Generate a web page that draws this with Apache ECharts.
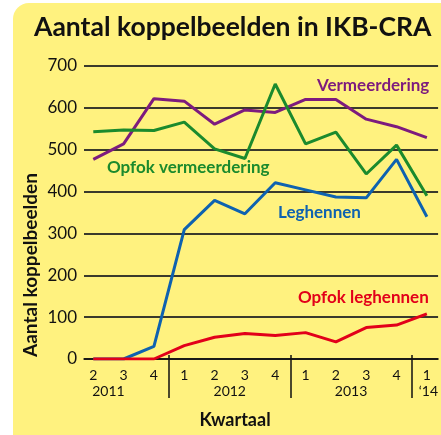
<!DOCTYPE html>
<html>
<head>
<meta charset="utf-8">
<script src="https://cdn.jsdelivr.net/npm/echarts@6/dist/echarts.min.js"></script>
<style>
html,body{margin:0;padding:0;background:#fff;}
#bg{position:absolute;left:13px;top:3px;width:450px;height:450px;background:#fff27f;border-radius:16px;}
#chart{position:absolute;left:0;top:0;width:441px;height:435px;}
</style>
</head>
<body>
<div id="bg"></div>
<div id="chart"></div>
<script>
var quarters = ['2','3','4','1','2','3','4','1','2','3','4','1'];
var yearLabels = ['2011','2012','2013','\u201814'];
var yearPos = [0.5, 4.5, 8.5, 11.05];
var yearBreaks = [2.5, 6.5, 10.5];
var vermeerdering = [477, 514, 622, 616, 561, 595, 589, 620, 620, 573, 555, 529];
var opfokVermeerdering = [543, 547, 546, 566, 502, 479, 657, 514, 542, 442, 511, 390];
var leghennen = [0, 0, 30, 309, 379, 347, 421, 404, 387, 385, 477, 340];
var opfokLeghennen = [0, 0, 0, 32, 52, 61, 56, 63, 41, 75, 81, 108];

function pts(arr){ return arr.map(function(v,i){ return [i, v]; }); }
var F = 'Lato, "Noto Sans", sans-serif';

var chart = echarts.init(document.getElementById('chart'), null, {renderer:'canvas'});
function line(name, data, color){
  return {name:name, type:'line', data:pts(data), symbol:'none', xAxisIndex:0,
    lineStyle:{color:color, width:3}, itemStyle:{color:color}, z:5, animation:false};
}
chart.setOption({
  backgroundColor:'transparent',
  animation:false,
  title:{text:'Aantal koppelbeelden in IKB-CRA', left:29, top:9,
    textStyle:{fontFamily:F, fontWeight:'bold', fontSize:26.5, color:'#111'}},
  grid:{left:84, right:2, top:66, bottom:76},
  xAxis:[{
    type:'value', min:-0.306, max:11.37, position:'bottom',
    axisLine:{show:true, lineStyle:{color:'#111', width:1.5}},
    axisTick:{show:true, customValues:yearBreaks, length:39, lineStyle:{color:'#111', width:1.5}},
    axisLabel:{customValues:[0,1,2,3,4,5,6,7,8,9,10,11], formatter:function(v){return quarters[Math.round(v)];},
      fontFamily:F, fontSize:14, color:'#111', margin:9},
    splitLine:{show:false}
  },{
    type:'value', min:-0.306, max:11.37, position:'bottom',
    axisLine:{show:false},
    axisTick:{show:true, inside:true, customValues:yearBreaks, length:4, lineStyle:{color:'#111', width:1.5}},
    axisLabel:{customValues:yearPos, formatter:function(v){var i=yearPos.indexOf(v);return i>=0?yearLabels[i]:'';},
      fontFamily:F, fontSize:14, color:'#111', margin:25},
    splitLine:{show:false}
  }],
  yAxis:{type:'value', min:0, max:700, interval:100,
    axisLine:{show:false}, axisTick:{show:false},
    axisLabel:{fontFamily:F, fontSize:17, color:'#111', margin:7},
    splitLine:{lineStyle:{color:'#3a3a2c', width:2}}
  },
  series:[
    line('Vermeerdering', vermeerdering, '#7d1b7e'),
    line('Opfok vermeerdering', opfokVermeerdering, '#1b8a2d'),
    line('Leghennen', leghennen, '#0e62b0'),
    line('Opfok leghennen', opfokLeghennen, '#e2001a')
  ],
  graphic:[
    {type:'text', x:317, y:86, style:{text:'Vermeerdering', font:'bold 17px '+F, fill:'#7d1b7e', verticalAlign:'middle'}},
    {type:'text', x:107, y:168, style:{text:'Opfok vermeerdering', font:'bold 17px '+F, fill:'#1b8a2d', verticalAlign:'middle'}},
    {type:'text', x:278, y:213, style:{text:'Leghennen', font:'bold 17px '+F, fill:'#0e62b0', verticalAlign:'middle'}},
    {type:'text', x:298, y:298, style:{text:'Opfok leghennen', font:'bold 17px '+F, fill:'#e2001a', verticalAlign:'middle'}},
    {type:'text', x:235, y:420, style:{text:'Kwartaal', font:'bold 18px '+F, fill:'#111', align:'center', verticalAlign:'middle'}},
    {type:'text', x:31, y:265, rotation:Math.PI/2, style:{text:'Aantal koppelbeelden', font:'bold 19px '+F, fill:'#111', align:'center', verticalAlign:'middle'}}
  ]
});
</script>
</body>
</html>
